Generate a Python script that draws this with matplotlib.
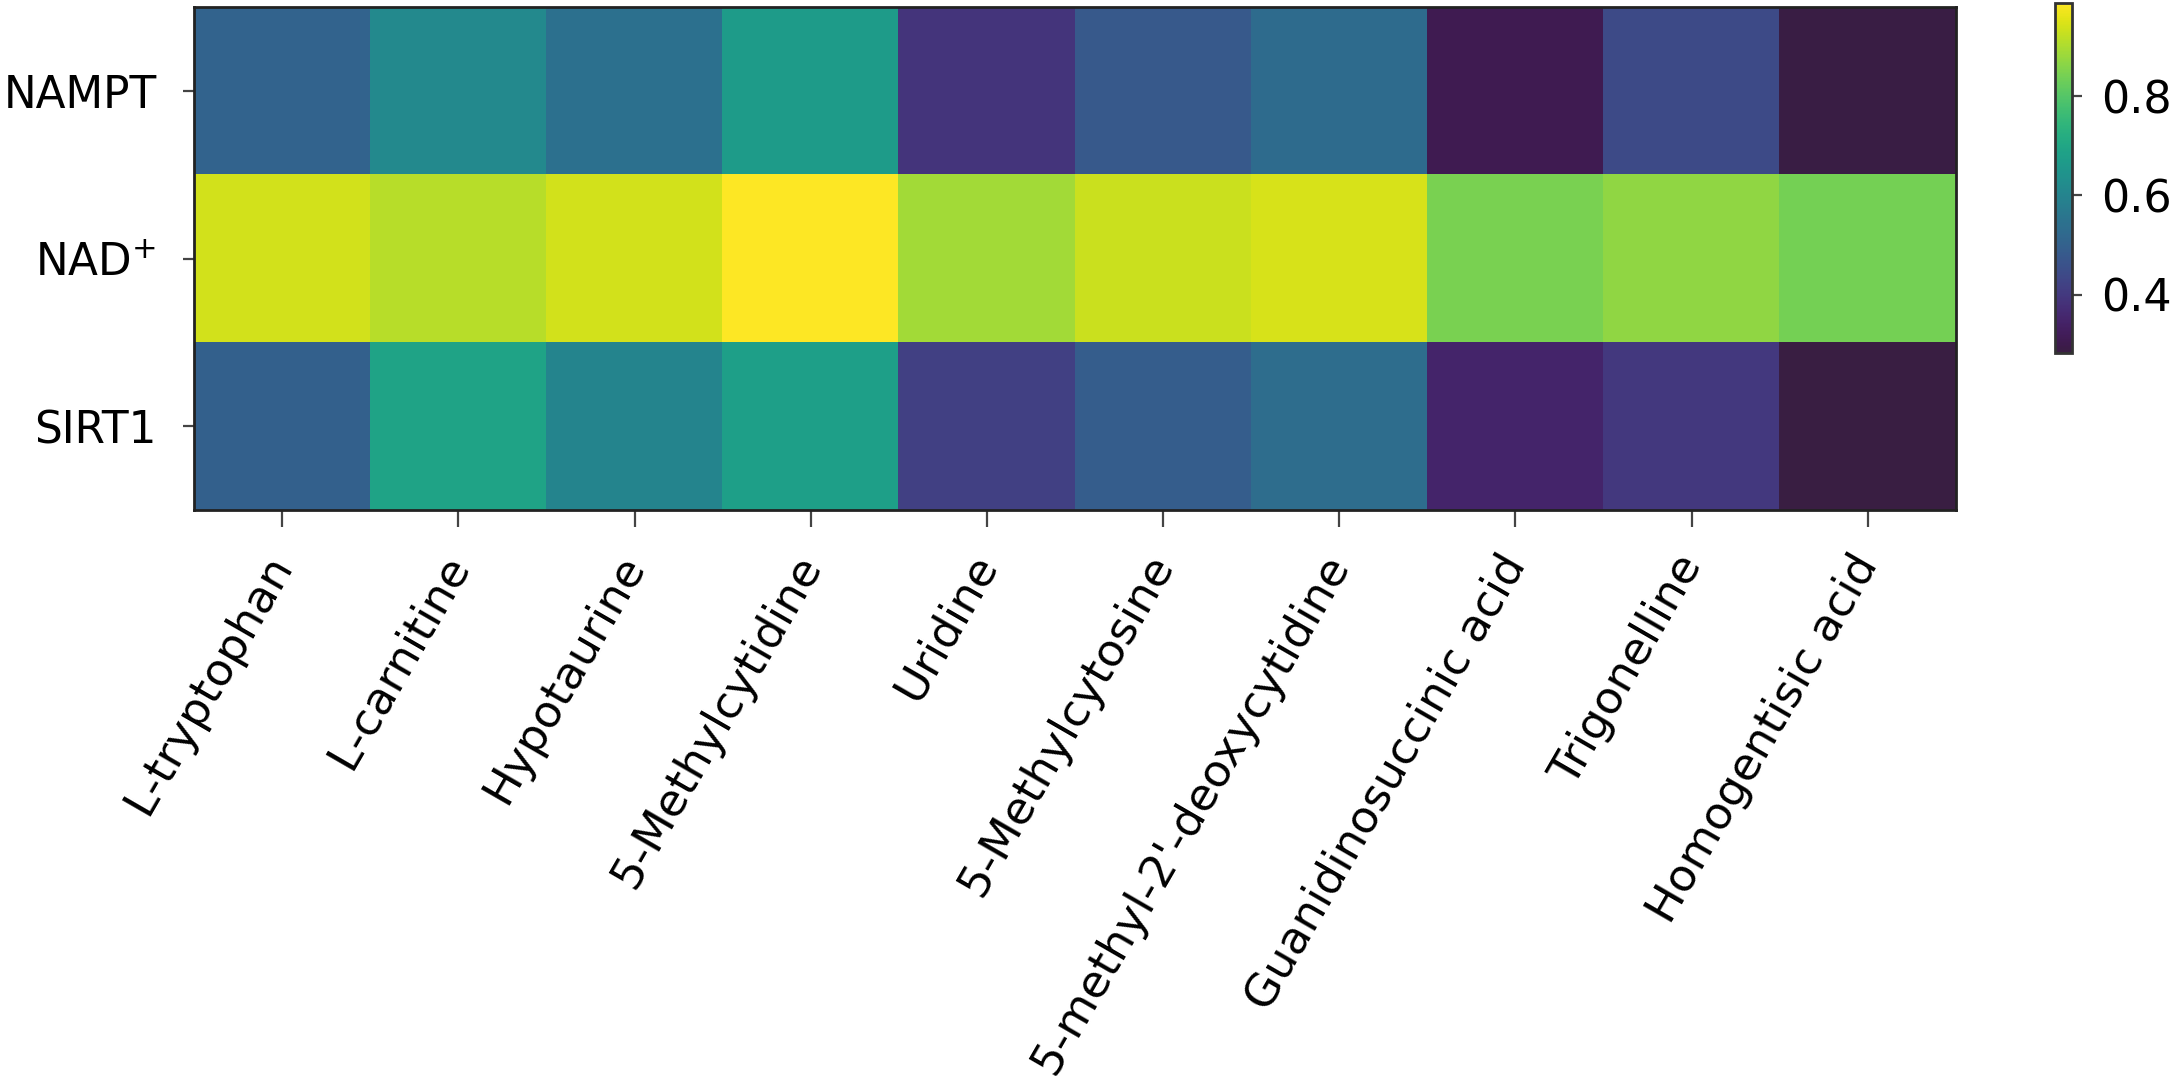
"""Heatmap of correlation between metabolites and NAMPT / NAD+ / SIRT1."""

import numpy as np
import matplotlib

matplotlib.use("Agg")
import matplotlib.pyplot as plt
from matplotlib.colors import ListedColormap

plt.rcParams["font.family"] = ["DejaVu Sans"]
plt.rcParams["mathtext.default"] = "regular"

metabolites = [
    "L-tryptophan",
    "L-carnitine",
    "Hypotaurine",
    "5-Methylcytidine",
    "Uridine",
    "5-Methylcytosine",
    "5-methyl-2'-deoxycytidine",
    "Guanidinosuccinic acid",
    "Trigonelline",
    "Homogentisic acid",
]
targets = ["NAMPT", "NAD$^{+}$", "SIRT1"]

nampt = [0.508, 0.614, 0.543, 0.670, 0.390, 0.480, 0.530, 0.310, 0.440, 0.287]
nad = [0.940, 0.910, 0.940, 0.987, 0.890, 0.930, 0.945, 0.846, 0.870, 0.840]
sirt1 = [0.500, 0.690, 0.600, 0.680, 0.420, 0.490, 0.535, 0.350, 0.400, 0.283]

cbar_ticks = [0.4, 0.6, 0.8]

# viridis, dark end pulled toward a muted grey like the source figure
_base = plt.get_cmap("viridis")(np.linspace(0, 1, 256))
_t = np.linspace(0, 1, 256)[:, None]
_w = 0.6 * (1 - _t) ** 14
_grey = np.array([50, 50, 55]) / 255.0
_base[:, :3] = _base[:, :3] * (1 - _w) + _grey * _w
CMAP = ListedColormap(_base)

TEXT = "#000000"
EDGE = "#222222"
TICK = "#444444"

data = np.array([nampt, nad, sirt1])

fig = plt.figure(figsize=(21.73, 10.76), dpi=100)
ax = fig.add_axes([0.0893, 0.5260, 0.8108, 0.4675])
im = ax.imshow(data, cmap=CMAP, aspect="auto", interpolation="nearest",
               vmin=data.min(), vmax=data.max())

ax.set_xticks(range(len(metabolites)))
ax.set_xticklabels(metabolites, rotation=60, ha="right", va="center",
                   rotation_mode="anchor", fontsize=32.5, color=TEXT)
ax.set_yticks(range(len(targets)))
ax.set_yticklabels(targets, fontsize=31.5, color=TEXT)
ax.tick_params(axis="x", length=12.5, width=1.6, color=TICK, pad=22)
ax.tick_params(axis="y", length=8, width=1.6, color=TICK, pad=19)
for spine in ax.spines.values():
    spine.set_color(EDGE)
    spine.set_linewidth(2)

cax = fig.add_axes([0.9457, 0.672, 0.0078, 0.325])
cb = fig.colorbar(im, cax=cax, ticks=cbar_ticks)
cb.ax.tick_params(labelsize=32, length=7, width=1.6, color=TICK, pad=14)
cb.ax.set_yticklabels([f"{v:.1f}" for v in cbar_ticks])
cb.outline.set_edgecolor("#333333")
cb.outline.set_linewidth(2)

fig.savefig("out.png", dpi=100, facecolor="white")
plt.close(fig)
